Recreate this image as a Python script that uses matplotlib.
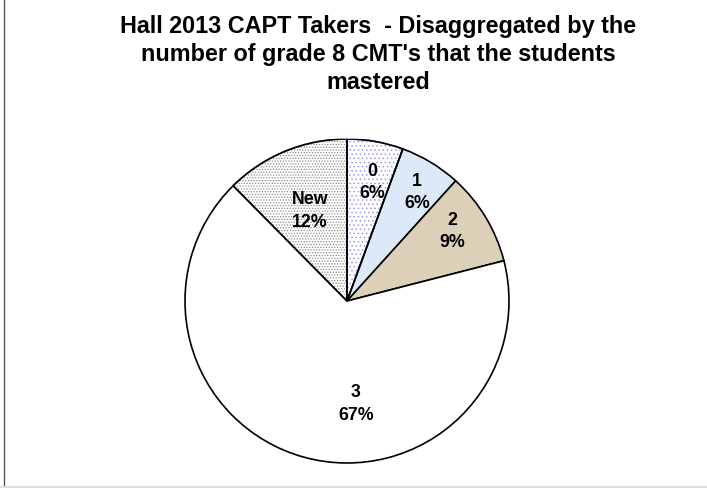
import matplotlib
matplotlib.use("Agg")
import matplotlib.pyplot as plt
import matplotlib.patches as mpatches
import numpy as np
from matplotlib.lines import Line2D

categories = ["0", "1", "2", "3", "New"]
shares = [5.6, 6.1, 9.3, 66.6, 12.4]
title = "Hall 2013 CAPT Takers  - Disaggregated by the\nnumber of grade 8 CMT's that the students\nmastered"

colors = ["#ffffff", "#dce9f8", "#dcd0b9", "#ffffff", "#ffffff"]
hatches = ["....", None, None, None, "......"]
hatch_colors = ["#9a9af0", None, None, None, "#8c8c8c"]
# label centres in units of the pie radius
label_pos = [(0.154, 0.738), (0.432, 0.676), (0.648, 0.435), (0.056, -0.63), (-0.228, 0.562)]

plt.rcParams['font.family'] = ['Liberation Sans', 'DejaVu Sans']
plt.rcParams['hatch.linewidth'] = 0.6
fig = plt.figure(figsize=(7.07, 4.89), dpi=100)
ax = fig.add_axes([(347 - 162) / 707, (489 - 302 - 162) / 489, 324 / 707, 324 / 489])

wedges, _ = ax.pie(shares, colors=colors, startangle=90, counterclock=False,
                   wedgeprops=dict(edgecolor="black", linewidth=1.2))
for w, h, hc in zip(wedges, hatches, hatch_colors):
    if h:
        w.set_hatch(h)
        w.set_edgecolor(hc)
        edge = mpatches.Wedge(w.center, w.r, w.theta1, w.theta2,
                              facecolor="none", edgecolor="black", linewidth=1.2)
        ax.add_patch(edge)

total = sum(shares)
for cat, s, (x, y) in zip(categories, shares, label_pos):
    ax.text(x, y, f"{cat}\n{s / total * 100:.0f}%", ha="center", va="center",
            fontsize=12.8, fontweight="bold", linespacing=1.45)

ax.set_xlim(-1, 1)
ax.set_ylim(-1, 1)
ax.set_aspect("equal")
ax.axis("off")

fig.text(378 / 707, 1 - 15 / 489, title, ha="center", va="top", fontsize=16.8,
         fontweight="bold", linespacing=1.27)

fig.add_artist(Line2D([3.5 / 707, 3.5 / 707], [0, 1], color="#555555", linewidth=1.0))
fig.add_artist(Line2D([0, 1], [1.5 / 489, 1.5 / 489], color="#dddddd", linewidth=1.5))

fig.savefig("out.png", dpi=100)
